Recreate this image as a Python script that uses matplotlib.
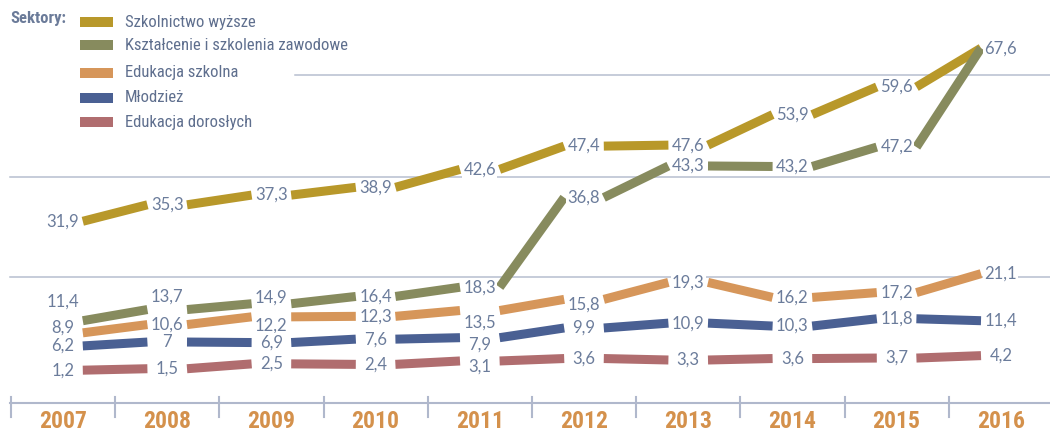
import matplotlib
matplotlib.use('Agg')
import matplotlib.pyplot as plt
from matplotlib.patches import Rectangle
from matplotlib import font_manager

# Dane
years = ['2007', '2008', '2009', '2010', '2011', '2012', '2013', '2014', '2015', '2016']
wyzsze = [31.9, 35.3, 37.3, 38.9, 42.6, 47.4, 47.6, 53.9, 59.6, 67.6]
zawodowe = [11.4, 13.7, 14.9, 16.4, 18.3, 36.8, 43.3, 43.2, 47.2, 67.6]
szkolna = [8.9, 10.6, 12.2, 12.3, 13.5, 15.8, 19.3, 16.2, 17.2, 21.1]
mlodziez = [6.2, 7, 6.9, 7.6, 7.9, 9.9, 10.9, 10.3, 11.8, 11.4]
dorosli = [1.2, 1.5, 2.5, 2.4, 3.1, 3.6, 3.3, 3.6, 3.7, 4.2]

names = ['Szkolnictwo wyższe', 'Kształcenie i szkolenia zawodowe',
         'Edukacja szkolna', 'Młodzież', 'Edukacja dorosłych']
series = [wyzsze, zawodowe, szkolna, mlodziez, dorosli]
colors = ['#b8982a', '#878b5e', '#d6965a', '#4a6093', '#b06d6f']

# przesunięcia etykiet (piksele, w dół dodatnie)
label_dy = {
    (1, 0): -19, (1, 1): -13, (1, 2): -6,
    (2, 0): -5, (2, 2): 9, (2, 4): 12, (2, 5): 5,
    (3, 4): 7, (4, 4): 6,
}
skip_labels = {(1, 9)}

# Czcionki
available = {f.name for f in font_manager.fontManager.ttflist}
narrow = 'DejaVu Sans'
for cand in ['Liberation Sans Narrow', 'DejaVu Sans Condensed', 'Roboto Condensed', 'Liberation Sans']:
    if cand in available:
        narrow = cand
        break
num_font = 'Lato' if 'Lato' in available else 'DejaVu Sans'

W, H = 1050, 433
fig = plt.figure(figsize=(W / 100, H / 100), dpi=100)
ax = fig.add_axes([0, 0, 1, 1])

# skala: piksel -> wartość
x0_px, dx_px = 63, 104.2
y0_px, dy_px = 376, 4.85


def py(px):
    return (y0_px - px) / dy_px


def fx(px):
    return px / W


def fy(px):
    return 1 - px / H


ax.set_xlim(-x0_px / dx_px, (W - x0_px) / dx_px)
ax.set_ylim(py(H), py(0))
ax.axis('off')

# linie siatki (dekoracyjne)
grid_c = '#b7bfcf'
for gy, gx in [(75, 295), (177, 10), (277, 10)]:
    ax.plot([fx(gx), 1], [fy(gy), fy(gy)], transform=ax.transAxes, color=grid_c, lw=1.1, zorder=1)

# oś dolna
axis_c = '#b0b8cc'
ax.plot([fx(10), 1], [fy(403), fy(403)], transform=ax.transAxes, color=axis_c, lw=1.5, zorder=1)
for i in range(len(years) + 1):
    ax.plot([i - 0.5, i - 0.5], [py(397), py(417)], color=axis_c, lw=1.5, zorder=1)
for i, y in enumerate(years):
    ax.text(i, py(421), y, ha='center', va='center', fontsize=17, fontweight='bold',
            color='#d4914c', family=narrow)

# odcinki linii z przerwami na etykiety
gap = 0.19
for s, (vals, c) in enumerate(zip(series, colors)):
    for i in range(len(vals) - 1):
        ax.plot([i + gap, i + 1 - gap], [vals[i], vals[i + 1]],
                color=c, lw=6.5, solid_capstyle='butt', zorder=3)

# etykiety wartości
for s, vals in enumerate(series):
    for i, v in enumerate(vals):
        if (s, i) in skip_labels:
            continue
        txt = f'{v:g}'.replace('.', ',')
        ax.annotate(txt, (i, v), xytext=(0, -label_dy.get((s, i), 0)),
                    textcoords='offset pixels', ha='center', va='center',
                    fontsize=12, color='#6b7c9b', family=num_font, zorder=4,
                    bbox=dict(fc='white', ec='none', pad=1))

# legenda
ax.text(fx(10), fy(18), 'Sektory:', transform=ax.transAxes, ha='left', va='center',
        fontsize=12, fontweight='bold', color='#6b7b99', family=narrow)
leg_y = [22, 45, 73, 98, 122]
for name, c, ly in zip(names, colors, leg_y):
    ax.add_patch(Rectangle((fx(80), fy(ly + 4.5)), 33 / W, 9 / H, transform=ax.transAxes,
                           color=c, lw=0))
    ax.text(fx(125), fy(ly), name, transform=ax.transAxes, ha='left', va='center',
            fontsize=12, color='#5f6f8e', family=narrow)

fig.savefig('out.png', dpi=100)
